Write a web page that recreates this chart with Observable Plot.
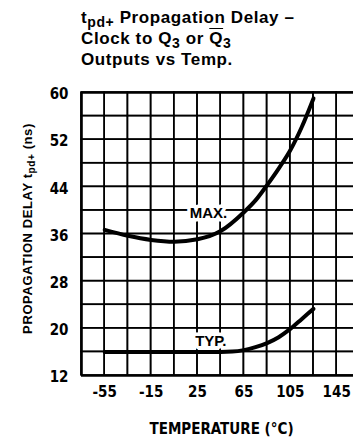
<!DOCTYPE html>
<html>
<head>
<meta charset="utf-8">
<script src="https://cdn.jsdelivr.net/npm/d3@7"></script>
<script src="https://cdn.jsdelivr.net/npm/@observablehq/plot@0.6"></script>
<style>
  html, body { margin: 0; padding: 0; background: #fff; }
  #title {
    height: 80px; box-sizing: border-box; padding: 7px 0 0 81px;
    font-family: "Liberation Sans", Arial, sans-serif; font-weight: bold;
    font-size: 17px; line-height: 21px; letter-spacing: 0.6px; color: #000;
  }
  #title sub { font-size: 14px; vertical-align: -4px; line-height: 0; }
  .ov { text-decoration: overline; }
</style>
</head>
<body>
<div id="title">
  <div>t<sub>pd+</sub> Propagation Delay –</div>
  <div>Clock to Q<sub>3</sub> or <span class="ov">Q</span><sub>3</sub></div>
  <div>Outputs vs Temp.</div>
</div>
<div id="chart"></div>
<script>
// MAX curve (ns) vs temperature (°C)
const maxTemps = [-55, -35, -15, 5, 25, 45, 65, 75, 85, 95, 105, 115, 125];
const maxDelay = [36.7, 35.7, 35.0, 34.7, 35.1, 36.5, 39.7, 41.7, 44.3, 47.1, 50.2, 54.2, 59.0];
// TYP curve
const typTemps = [-55, -15, 25, 45, 55, 65, 75, 85, 95, 105, 115, 125];
const typDelay = [16, 16, 16, 16, 16.05, 16.3, 16.8, 17.5, 18.5, 19.9, 21.6, 23.3];
// ticks
const xTicks = [-55, -15, 25, 65, 105, 145];
const yTicks = [12, 20, 28, 36, 44, 52, 60];
// grid boundaries
const xGridVals = [-75, -55, -35, -15, 5, 25, 45, 65, 85, 105, 125, 145, 165];
const yGridVals = [12, 16, 20, 24, 28, 32, 36, 40, 44, 48, 52, 56, 60];
// curve labels
const labelTemps = [34.5, 36.5];
const labelDelays = [39.6, 17.9];
const labelTexts = ["MAX.", "TYP."];

const maxData = maxTemps.map((t, i) => ({t, v: maxDelay[i]}));
const typData = typTemps.map((t, i) => ({t, v: typDelay[i]}));
const curveLabels = labelTexts.map((text, i) => ({t: labelTemps[i], v: labelDelays[i], text}));
const cells = [];
for (let i = 0; i < xGridVals.length - 1; i++) {
  for (let j = 0; j < yGridVals.length - 1; j++) {
    cells.push({x1: xGridVals[i], x2: xGridVals[i + 1], y1: yGridVals[j], y2: yGridVals[j + 1]});
  }
}

const narrow = '"Liberation Sans Narrow", "DejaVu Sans Condensed", "Arial Narrow", sans-serif';

const plot = Plot.plot({
  width: 353,
  height: 365,
  marginLeft: 81,
  marginRight: 0,
  marginTop: 12,
  marginBottom: 70,
  style: {background: "#fff", color: "#000", fontFamily: narrow},
  x: {domain: [-75, 159.5]},
  y: {domain: [12, 60]},
  marks: [
    Plot.rect(cells, {x1: "x1", x2: "x2", y1: "y1", y2: "y2", fill: "none",
      stroke: "#000", strokeWidth: 1.6}),
    Plot.ruleX([-75], {stroke: "#000", strokeWidth: 2.6}),
    Plot.ruleY([12, 60], {stroke: "#000", strokeWidth: 2.6}),
    Plot.text(curveLabels, {x: "t", y: "v", text: "text", fontSize: 15, fontWeight: "bold",
      fontFamily: '"Liberation Sans", Arial, sans-serif', fill: "#000",
      stroke: "#fff", strokeWidth: 7, paintOrder: "stroke"}),
    Plot.line(maxData, {x: "t", y: "v", curve: "monotone-x", stroke: "#000", strokeWidth: 4}),
    Plot.line(typData, {x: "t", y: "v", curve: "monotone-x", stroke: "#000", strokeWidth: 4}),
    Plot.axisX(xTicks, {tickSize: 0, tickPadding: 11, fontSize: 15, fontWeight: "bold",
      tickFormat: d => String(d), label: null}),
    Plot.axisY(yTicks, {tickSize: 0, tickPadding: 13, fontSize: 15, fontWeight: "bold",
      dy: 2, label: null}),
    Plot.text(["TEMPERATURE (°C)"], {frameAnchor: "bottom", dy: 58, dx: 4, fontSize: 15,
      fontWeight: "bold", fill: "#000"})
  ]
});

document.getElementById("chart").appendChild(plot);

// rotated y-axis title with subscript
const ys = plot.scale("y");
const cy = (ys.apply(12) + ys.apply(60)) / 2 - 5;
const yl = d3.select(plot).append("text")
  .attr("transform", `translate(32,${cy}) rotate(-90)`)
  .attr("text-anchor", "middle")
  .attr("font-family", '"Liberation Sans", Arial, sans-serif')
  .attr("font-weight", "bold")
  .attr("font-size", 13)
  .attr("letter-spacing", 0.6)
  .attr("fill", "#000");
yl.append("tspan").text("PROPAGATION DELAY t");
yl.append("tspan").attr("font-size", 10).attr("dy", 3).text("pd+");
yl.append("tspan").attr("dy", -3).text(" (ns)");
</script>
</body>
</html>
